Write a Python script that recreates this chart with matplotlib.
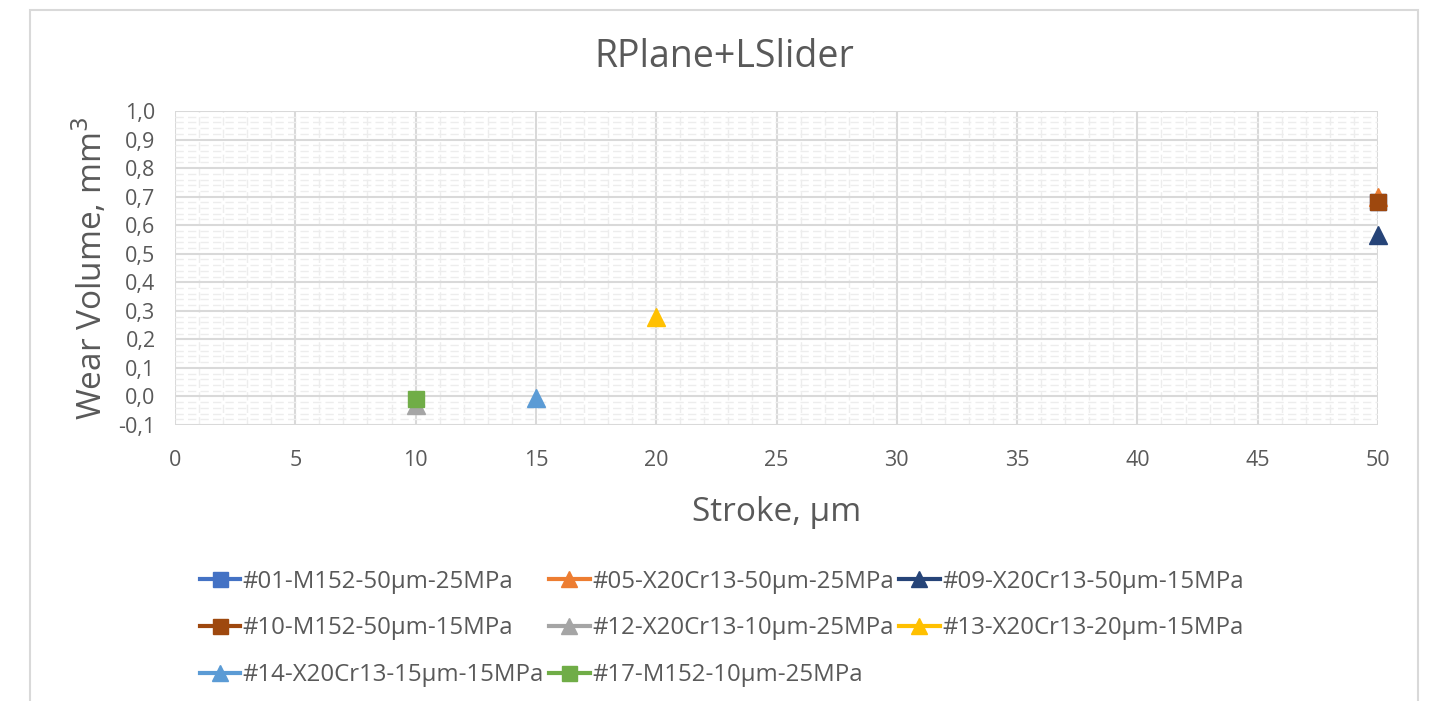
import matplotlib
matplotlib.use("Agg")
import matplotlib.pyplot as plt
from matplotlib.ticker import MultipleLocator, FuncFormatter
from matplotlib.patches import Rectangle

plt.rcParams['font.family'] = ['Open Sans', 'DejaVu Sans']

labels = ["#01-M152-50µm-25MPa", "#05-X20Cr13-50µm-25MPa", "#09-X20Cr13-50µm-15MPa",
          "#10-M152-50µm-15MPa", "#12-X20Cr13-10µm-25MPa", "#13-X20Cr13-20µm-15MPa",
          "#14-X20Cr13-15µm-15MPa", "#17-M152-10µm-25MPa"]
stroke = [50, 50, 50, 50, 10, 20, 15, 10]
wear = [0.68, 0.70, 0.565, 0.68, -0.03, 0.28, -0.005, -0.008]
colors = ["#4472C4", "#ED7D31", "#264478", "#9E480E", "#A5A5A5", "#FFC000", "#5B9BD5", "#70AD47"]
markers = ["s", "^", "^", "s", "^", "^", "^", "s"]

TXT = "#595959"
fig = plt.figure(figsize=(14.29, 7.01), dpi=100)
fig.patches.append(Rectangle((30/1429, -0.05), (1418-30)/1429, 1 - 10/701 + 0.05,
                             transform=fig.transFigure, fill=False, edgecolor="#D9D9D9", lw=1.5))
ax = fig.add_axes([175/1429, 1-425/701, (1378-175)/1429, (425-111)/701])

handles = {}
for lab, x, y, c, m in zip(labels, stroke, wear, colors, markers):
    ms = 13 if m == "^" else 12
    h, = ax.plot([x], [y], linestyle="-", color=c, marker=m, markersize=ms, lw=3,
                 label=lab, clip_on=False, zorder=3)
    handles[lab] = h

ax.set_xlim(0, 50)
ax.set_ylim(-0.1, 1.0)
ax.xaxis.set_major_locator(MultipleLocator(5))
ax.xaxis.set_minor_locator(MultipleLocator(1))
ax.yaxis.set_major_locator(MultipleLocator(0.1))
ax.yaxis.set_minor_locator(MultipleLocator(0.02))
ax.grid(which="major", color="#D9D9D9", lw=1.5)
ax.grid(which="minor", color="#EDEDED", lw=1, linestyle=(0, (6, 3)))
ax.set_axisbelow(True)
for s in ax.spines.values():
    s.set_visible(False)
ax.tick_params(which="both", length=0, labelsize=15.5, colors=TXT)
ax.tick_params(axis="x", pad=18)
ax.tick_params(axis="y", pad=14)
ax.yaxis.set_major_formatter(FuncFormatter(lambda v, p: f"{v:.1f}".replace(".", ",").replace("-0,0", "0,0")))
ax.xaxis.set_major_formatter(FuncFormatter(lambda v, p: f"{v:.0f}"))

fig.text(724/1429, 1-57/701, "RPlane+LSlider", fontsize=27, color=TXT, ha="center", va="center")
ax.set_xlabel("Stroke, µm", fontsize=24, color=TXT, labelpad=18)
ax.set_ylabel("Wear Volume, mm$^3$", fontsize=24, color=TXT, labelpad=6)

order = [0, 3, 6, 1, 4, 7, 2, 5]
hs = [handles[labels[i]] for i in order]
ls = [labels[i] for i in order]
fig.legend(hs, ls, loc="upper left", bbox_to_anchor=(190/1429, 1-560/701), ncol=3,
           frameon=False, fontsize=17.3, labelcolor=TXT, handlelength=1.7, markerscale=0.9,
           handletextpad=0.1, columnspacing=0.2, labelspacing=0.95, borderaxespad=0)

fig.savefig("out.png", dpi=100)
